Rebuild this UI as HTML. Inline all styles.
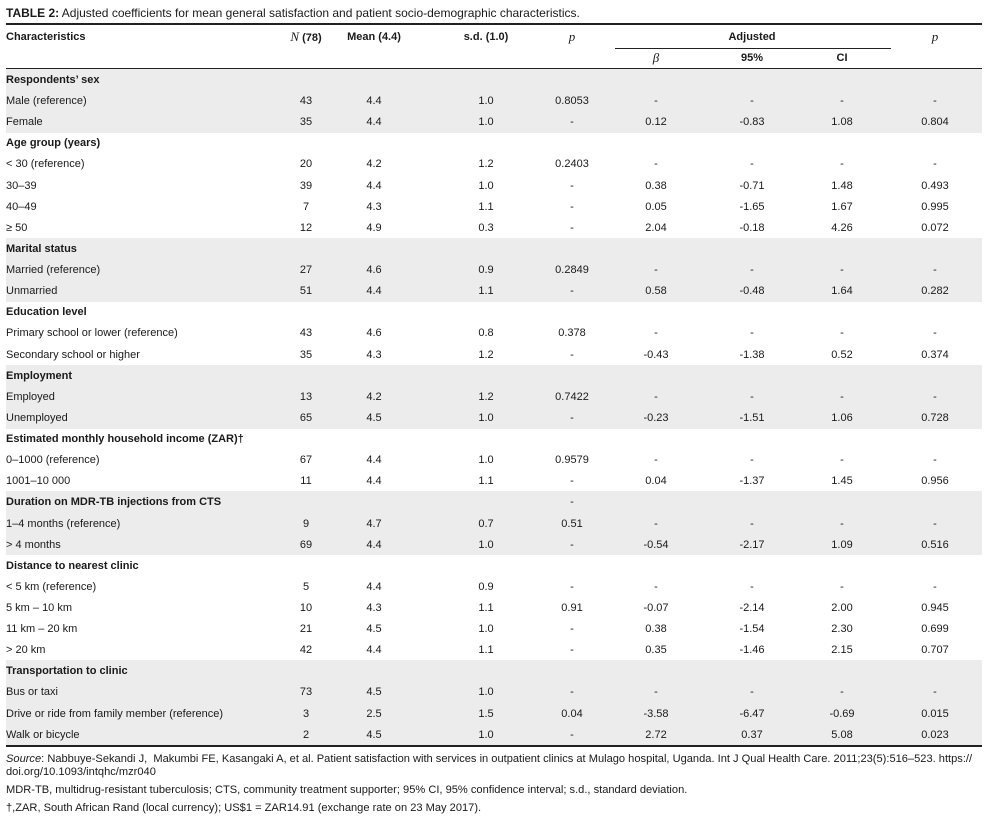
<!DOCTYPE html>
<html><head><meta charset="utf-8">
<style>
body{margin:0;width:988px;height:819px;background:#fff;font-family:"Liberation Sans",sans-serif;color:#1a1a1a;position:relative;overflow:hidden}
.a{position:absolute;white-space:nowrap;font-size:11px;line-height:14px}
.c{transform:translateX(-50%)}
.b{font-weight:bold}
.bg{position:absolute;left:6px;width:976px;background:#ececec}
.ln{position:absolute;background:#222}
.ft{position:absolute;left:6px;font-size:11.1px;white-space:nowrap;line-height:13px}
.it{font-family:"Liberation Serif",serif;font-style:italic;font-weight:normal;font-size:13px}
</style></head><body>
<div class="a" style="left:6px;top:6px;font-size:12px"><b>TABLE 2:</b> Adjusted coefficients for mean general satisfaction and patient socio-demographic characteristics.</div>
<div class="ln" style="left:6px;top:23px;width:976px;height:2px"></div>
<div class="ln" style="left:6px;top:68px;width:976px;height:1px"></div>
<div class="ln" style="left:615px;top:48px;width:276px;height:1px"></div>
<div class="ln" style="left:6px;top:745px;width:976px;height:2px"></div>
<div class="a c b" style="left:306px;top:30px"><span class="it">N</span> (78)</div>
<div id="t"></div>
<div class="ft" style="top:753px"><i>Source</i>: Nabbuye-Sekandi J,&nbsp; Makumbi FE, Kasangaki A, et al. Patient satisfaction with services in outpatient clinics at Mulago hospital, Uganda. Int J Qual Health Care. 2011;23(5):516–523. https://</div>
<div class="ft" style="top:766px">doi.org/10.1093/intqhc/mzr040</div>
<div class="ft" style="top:784px">MDR-TB, multidrug-resistant tuberculosis; CTS, community treatment supporter; 95% CI, 95% confidence interval; s.d., standard deviation.</div>
<div class="ft" style="top:802px">†,ZAR, South African Rand (local currency); US$1 = ZAR14.91 (exchange rate on 23 May 2017).</div>
<script>
const colX=[306,374,486,572,656,752,842,935];
const headers=[["Mean (4.4)",374,37],["s.d. (1.0)",486,37],["p",572,37],["Adjusted",752,37],["p",935,37],["β",656,58],["95%",752,58],["CI",842,58]];
const rows=[
["Respondents’ sex",1],["Male (reference)","43","4.4","1.0","0.8053","-","-","-","-"],["Female","35","4.4","1.0","-","0.12","-0.83","1.08","0.804"],
["Age group (years)",1],["< 30 (reference)","20","4.2","1.2","0.2403","-","-","-","-"],["30–39","39","4.4","1.0","-","0.38","-0.71","1.48","0.493"],["40–49","7","4.3","1.1","-","0.05","-1.65","1.67","0.995"],["≥ 50","12","4.9","0.3","-","2.04","-0.18","4.26","0.072"],
["Marital status",1],["Married (reference)","27","4.6","0.9","0.2849","-","-","-","-"],["Unmarried","51","4.4","1.1","-","0.58","-0.48","1.64","0.282"],
["Education level",1],["Primary school or lower (reference)","43","4.6","0.8","0.378","-","-","-","-"],["Secondary school or higher","35","4.3","1.2","-","-0.43","-1.38","0.52","0.374"],
["Employment",1],["Employed","13","4.2","1.2","0.7422","-","-","-","-"],["Unemployed","65","4.5","1.0","-","-0.23","-1.51","1.06","0.728"],
["Estimated monthly household income (ZAR)†",1],["0–1000 (reference)","67","4.4","1.0","0.9579","-","-","-","-"],["1001–10 000","11","4.4","1.1","-","0.04","-1.37","1.45","0.956"],
["Duration on MDR-TB injections from CTS",1,"-"],["1–4 months (reference)","9","4.7","0.7","0.51","-","-","-","-"],["> 4 months","69","4.4","1.0","-","-0.54","-2.17","1.09","0.516"],
["Distance to nearest clinic",1],["< 5 km (reference)","5","4.4","0.9","-","-","-","-","-"],["5 km – 10 km","10","4.3","1.1","0.91","-0.07","-2.14","2.00","0.945"],["11 km – 20 km","21","4.5","1.0","-","0.38","-1.54","2.30","0.699"],["> 20 km","42","4.4","1.1","-","0.35","-1.46","2.15","0.707"],
["Transportation to clinic",1],["Bus or taxi","73","4.5","1.0","-","-","-","-","-"],["Drive or ride from family member (reference)","3","2.5","1.5","0.04","-3.58","-6.47","-0.69","0.015"],["Walk or bicycle","2","4.5","1.0","-","2.72","0.37","5.08","0.023"]
];
const groupShade=[1,0,1,0,1,0,1,0,1];
const T=document.getElementById('t');
const top0=69,rh=21.12;
function mk(cls,txt,x,y){const d=document.createElement('div');d.className='a '+cls;d.textContent=txt;d.style.left=x+'px';d.style.top=y+'px';T.appendChild(d);return d;}
const hc=mk('b','Characteristics',6,30);


headers.forEach(h=>{const d=mk('c b',h[0],h[1],h[2]-7);
if(h[0]==='p'||h[0]==='β'){d.classList.add('it');}

});
let g=-1;
rows.forEach((r,i)=>{
 const y=top0+i*rh;
 if(r[1]===1)g++;
 if(groupShade[g]){const s=document.createElement('div');s.className='bg';s.style.top=y+'px';s.style.height=(rh+0.5)+'px';T.insertBefore(s,T.firstChild);
 
 }
 const ty=y+4;
 if(r[1]===1){const d=mk('b',r[0],6,ty);
  
  
  if(r[2]){const e=mk('c',r[2],572,ty);}
 } else {const d=mk('',r[0],6,ty);
  
  
  for(let k=1;k<9;k++){const e=mk('c',r[k],colX[k-1],ty);
   
   }
 }
});
</script>
</body></html>
